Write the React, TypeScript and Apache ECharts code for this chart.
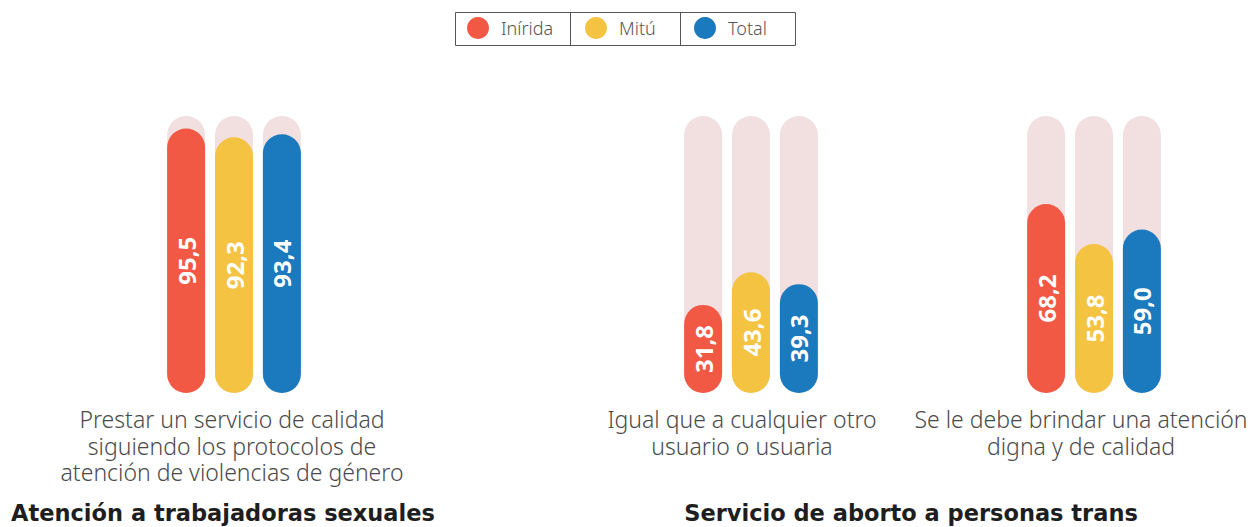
import React, { useEffect, useRef } from "react";
import * as echarts from "echarts";

const seriesNames = ["Inírida", "Mitú", "Total"];
const colors = ["#f25944", "#f4c342", "#1b79be"];
const categories = [
  "Prestar un servicio de calidad\nsiguiendo los protocolos de\natención de violencias de género",
  "Igual que a cualquier otro\nusuario o usuaria",
  "Se le debe brindar una atención\ndigna y de calidad",
];
const inirida = [95.5, 31.8, 68.2];
const mitu = [92.3, 43.6, 53.8];
const total = [93.4, 39.3, 59.0];
const groupTitles = ["Atención a trabajadoras sexuales", "Servicio de aborto a personas trans"];

const values = [inirida, mitu, total];
const gridCenters = [234, 751, 1094];
const labelPads = [[0, 4, 0, 0], [0, 18, 0, 0], [0, 26, 0, 0]];
const legendLefts = [467, 585, 694];

export default function App() {
  const ref = useRef<HTMLDivElement>(null);
  useEffect(() => {
    const chart = echarts.init(ref.current!, null, { renderer: "svg" });
    const grids = gridCenters.map((c) => ({
      left: c - 100,
      width: 200,
      top: 116,
      bottom: 134,
      containLabel: false,
      outerBoundsMode: "none",
    }));
    const xAxes = categories.map((cat, i) => ({
      type: "category",
      gridIndex: i,
      data: [cat],
      axisLine: { show: false },
      axisTick: { show: false },
      axisLabel: {
        interval: 0,
        margin: 13,
        color: "#4a4a4a",
        fontFamily: "Noto Sans",
        fontWeight: 300,
        fontSize: 23,
        lineHeight: 26.5,
        padding: labelPads[i],
      },
    }));
    const yAxes = categories.map((_, i) => ({
      type: "value",
      gridIndex: i,
      min: 0,
      max: 100,
      show: false,
    }));
    const series: any[] = [];
    categories.forEach((_, g) => {
      seriesNames.forEach((name, s) => {
        series.push({
          type: "bar",
          name,
          xAxisIndex: g,
          yAxisIndex: g,
          data: [values[s][g]],
          barWidth: 38,
          barGap: "26%",
          itemStyle: { color: colors[s], borderRadius: 19 },
          showBackground: true,
          backgroundStyle: { color: "#f2e0e1", borderRadius: 19 },
          label: {
            show: true,
            position: "inside",
            rotate: 90,
            color: "#ffffff",
            fontFamily: "Open Sans",
            fontWeight: "bold",
            fontSize: 24,
            formatter: (p: any) => p.value.toFixed(1).replace(".", ","),
          },
        });
      });
    });
    const legends = seriesNames.map((name, i) => ({
      data: [name],
      left: legendLefts[i],
      top: 17,
      icon: "circle",
      itemWidth: 22,
      itemHeight: 22,
      itemGap: 0,
      selectedMode: false,
      padding: 0,
      textStyle: { color: "#555555", fontFamily: "Noto Sans", fontWeight: 300, fontSize: 18, padding: [0, 0, 0, 7] },
    }));
    const titleStyle = {
      fontFamily: "DejaVu Sans",
      fontWeight: "bold",
      fontSize: 22.5,
      fill: "#1e1e1e",
      align: "center",
      verticalAlign: "middle",
    };
    chart.setOption({
      animation: false,
      legend: legends,
      grid: grids,
      xAxis: xAxes,
      yAxis: yAxes,
      series,
      graphic: [
        { type: "rect", shape: { x: 455.5, y: 12.5, width: 340, height: 33 }, style: { fill: "none", stroke: "#555555", lineWidth: 1 } },
        { type: "line", shape: { x1: 570.5, y1: 12.5, x2: 570.5, y2: 45.5 }, style: { stroke: "#555555", lineWidth: 1 } },
        { type: "line", shape: { x1: 680.5, y1: 12.5, x2: 680.5, y2: 45.5 }, style: { stroke: "#555555", lineWidth: 1 } },
        { type: "text", x: 223, y: 513, style: { ...titleStyle, text: groupTitles[0] } },
        { type: "text", x: 911, y: 513, style: { ...titleStyle, text: groupTitles[1] } },
      ],
    });
    return () => chart.dispose();
  }, []);
  return <div ref={ref} style={{ width: 1257, height: 527, position: "absolute", left: 0, top: 0 }} />;
}
